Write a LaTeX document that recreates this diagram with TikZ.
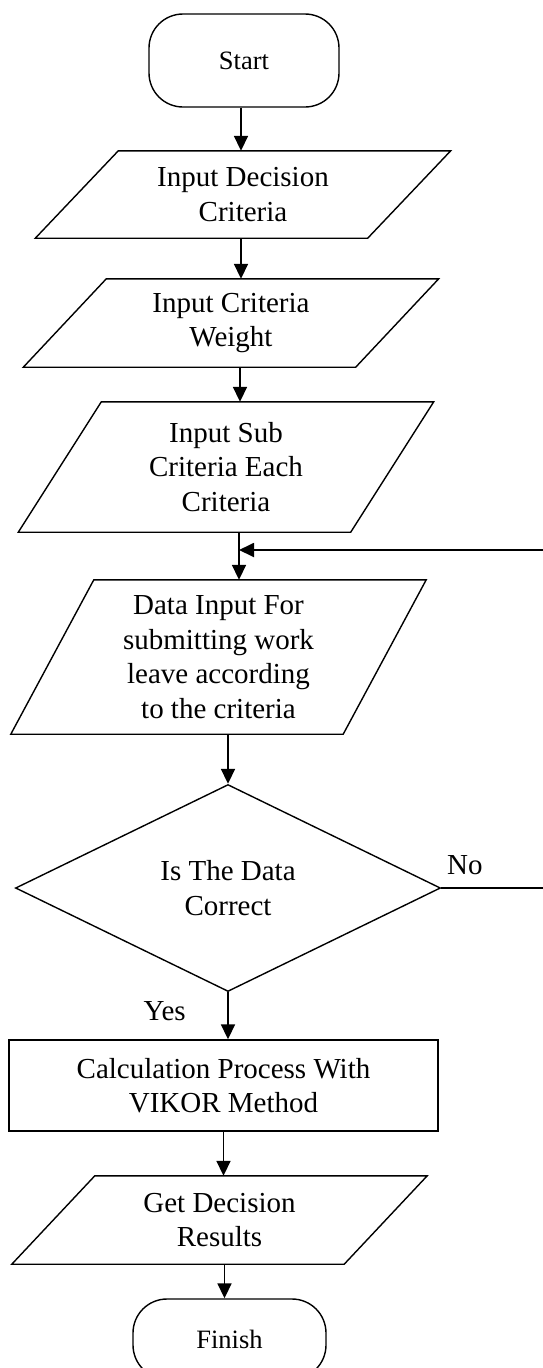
\documentclass[tikz,border=0pt]{standalone}
\usepackage{fontspec}
\setmainfont{Liberation Serif}
\usepackage{tikz}
\usetikzlibrary{shapes.geometric, arrows.meta, positioning, calc}

\tikzset{
    txt/.style={font=\fontsize{29}{34.5}\selectfont, align=center},
    terminal/.style={txt, draw, line width=1.4pt, rounded corners=34pt, inner sep=0pt, font=\fontsize{26.5}{31}\selectfont},
    iobox/.style={txt, inner sep=0pt, minimum width=415pt},
    decision/.style={txt, draw, diamond, line width=1.4pt, inner sep=0pt, minimum width=425pt, minimum height=207pt},
    process/.style={txt, draw, line width=1.4pt, minimum width=429pt, minimum height=91pt},
    conn/.style={line width=1.4pt},
    arrow/.style={line width=1.8pt, -{Triangle[length=15pt, width=14pt]}}
}

\begin{document}
\begin{tikzpicture}[x=1pt, y=-1pt]
    \useasboundingbox (0,0) rectangle (543,1368);

    % Start
    \node[terminal, minimum width=190pt, minimum height=93pt] (start) at (244,60.5) {Start};

    % Inputs
    \node[iobox, minimum height=87pt] (in1) at (243,194.5) {Input Decision\\Criteria};
    \node[iobox, minimum height=88pt] (in2) at (231,323) {Input Criteria\\Weight};
    \node[iobox, minimum height=130pt] (in3) at (226,467) {Input Sub\\Criteria Each\\Criteria};
    \node[iobox, minimum height=154pt] (in4) at (218.5,657) {Data Input For\\submitting work\\leave according\\to the criteria};

    % Check and calculation
    \node[decision] (dec) at (228,888) {Is The Data\\Correct};
    \node[process] (calc) at (223.5,1085.5) {Calculation Process With\\VIKOR Method};

    % Output and finish
    \node[iobox, minimum height=88pt] (out) at (219.5,1220) {Get Decision\\Results};
    \node[terminal, minimum width=193pt, minimum height=80pt] (finish) at (229.5,1339) {Finish};

    % The parallelograms round the input/output nodes
    \foreach \n in {in1,in2,in3,in4,out} {
        \draw[conn] ([xshift=83pt]\n.north west) -- (\n.north east) -- ([xshift=-83pt]\n.south east) -- (\n.south west) -- cycle;
    }

    % Flow
    \draw[arrow] ([xshift=-3pt]start.south) -- ([xshift=-3pt]start.south |- in1.north);
    \draw[arrow] ([xshift=-2pt]in1.south) -- ([xshift=-2pt]in1.south |- in2.north);
    \draw[arrow] ([xshift=9pt]in2.south) -- ([xshift=9pt]in2.south |- in3.north);
    \draw[arrow] ([xshift=13pt]in3.south) -- ([xshift=13pt]in3.south |- in4.north);
    \draw[arrow] (dec.north |- in4.south) -- (dec.north);
    \draw[arrow] (dec.south) -- node[txt, pos=0.4, left=38pt] (yes) {Yes} (dec.south |- calc.north);
    \draw[arrow] (calc.south) -- (calc.south |- out.north);
    \draw[arrow] ([xshift=5pt]out.south) -- ([xshift=5pt]out.south |- finish.north);

    % Loop back when the data is wrong
    \coordinate (loopR) at (546,888);
    \coordinate (join) at (239,550);
    \draw[arrow] (dec.east) -- node[txt, pos=0, anchor=south west, inner xsep=5pt, inner ysep=12pt] (no) {No} (loopR) |- (join);
\end{tikzpicture}
\end{document}
